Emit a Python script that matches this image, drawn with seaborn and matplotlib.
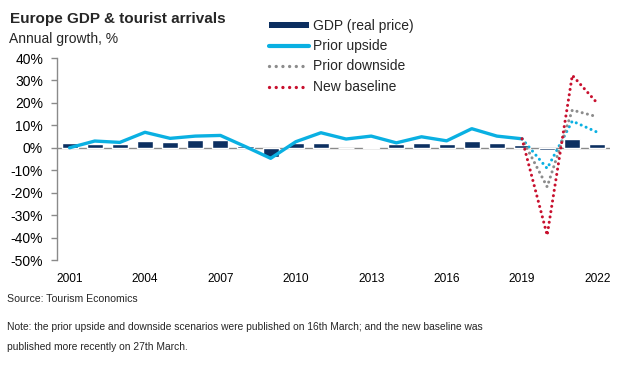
import numpy as np
import pandas as pd
import seaborn as sns
import matplotlib.pyplot as plt
from matplotlib import font_manager
from matplotlib.lines import Line2D
from matplotlib.patches import Patch

years = list(range(2001, 2023))
gdp = [2.0, 1.7, 1.7, 3.0, 2.5, 3.4, 3.4, 0.6, -4.3, 2.3, 2.0, -0.2,
       0.5, 1.6, 2.0, 1.8, 2.8, 2.0, 1.3, -1.2, 3.7, 1.9]

hist_years = list(range(2001, 2020))
upside_hist = [0.0, 3.0, 2.4, 6.9, 4.2, 5.2, 5.5, 0.5, -4.7, 2.7, 6.7, 3.9,
               5.2, 2.2, 4.9, 3.1, 8.5, 5.2, 4.0]

scen_years = [2019, 2020, 2021, 2022]
upside_scen = [4.0, -9.2, 11.9, 6.9]
downside_scen = [4.0, -17.4, 16.8, 13.8]
baseline_scen = [4.0, -39.0, 32.3, 19.8]

navy = '#0c2f60'
blue = '#0ab0e2'
grey = '#8c8c8c'
red = '#c8102e'
axis_grey = '#8a8a8a'

sns.set_style('white')
plt.rcParams['font.family'] = ['Liberation Sans', 'DejaVu Sans']

# the reference uses a narrow face for the x labels and footnotes
installed = {f.name for f in font_manager.fontManager.ttflist}
if 'Liberation Sans Narrow' in installed:
    narrow = ['Liberation Sans Narrow']
    xt_size, src_size, note_size = 10, 8.5, 8.8
else:
    narrow = ['Liberation Sans']
    xt_size, src_size, note_size = 8.6, 7.6, 7.35

fig = plt.figure(figsize=(6.3, 3.69), dpi=100)
ax = fig.add_axes([57 / 630, 1 - 260 / 369, 553 / 630, 202 / 369])

df_bar = pd.DataFrame({'year': years, 'gdp': gdp})
sns.barplot(data=df_bar, x='year', y='gdp', native_scale=True, width=0.64,
            color=navy, saturation=1, ax=ax, zorder=2)

ax.axhline(0, color=axis_grey, lw=1, zorder=1)

sns.lineplot(x=hist_years, y=upside_hist, color=blue, lw=2.4, ax=ax, zorder=3)

dots = dict(lw=2.2, dashes=(0.01, 1.75), dash_capstyle='round', zorder=4)
for vals, col in [(upside_scen, blue), (downside_scen, grey), (baseline_scen, red)]:
    ax.plot(scen_years, vals, color=col, **dots)

ax.set_xlim(2000.5, 2022.5)
ax.set_ylim(-50, 40)
ax.set_yticks(np.arange(-50, 41, 10))
ax.set_yticklabels([f'{v}%' for v in range(-50, 41, 10)], fontsize=10)
ax.set_xticks(list(range(2001, 2023, 3)))
ax.set_xticklabels([str(y) for y in range(2001, 2023, 3)], fontsize=xt_size, family=narrow)
ax.set_xlabel('')
ax.set_ylabel('')

for s in ['top', 'right', 'bottom']:
    ax.spines[s].set_visible(False)
ax.spines['left'].set_color(axis_grey)
ax.spines['left'].set_linewidth(1)
ax.tick_params(axis='y', which='major', left=True, length=4, width=1,
               color=axis_grey, pad=6, labelcolor='black')
ax.tick_params(axis='x', bottom=False, pad=6, labelcolor='black')

handles = [
    Patch(facecolor=navy, edgecolor='none'),
    Line2D([], [], color=blue, lw=3),
    Line2D([], [], color=grey, lw=2.4, dashes=(0.01, 2.0), dash_capstyle='round'),
    Line2D([], [], color=red, lw=2.4, dashes=(0.01, 2.0), dash_capstyle='round'),
]
labels = ['GDP (real price)', 'Prior upside', 'Prior downside', 'New baseline']
fig.legend(handles, labels, loc='upper left', bbox_to_anchor=(269 / 630, 1 - 19 / 369),
           frameon=False, fontsize=10, handlelength=2.85, handleheight=0.35,
           handletextpad=0.3, labelspacing=0.45, borderpad=0, borderaxespad=0)

fig.text(10 / 630, 1 - 23.5 / 369, 'Europe GDP & tourist arrivals', fontsize=11,
         fontweight='bold', va='baseline')
fig.text(9 / 630, 1 - 43 / 369, 'Annual growth, %', fontsize=10, va='baseline')
fig.text(7 / 630, 1 - 302 / 369, 'Source: Tourism Economics', fontsize=src_size,
         family=narrow, va='baseline')
fig.text(7 / 630, 1 - 329.5 / 369,
         'Note: the prior upside and downside scenarios were published on 16th March; and the new baseline was',
         fontsize=note_size, family=narrow, va='baseline')
fig.text(7 / 630, 1 - 350.5 / 369, 'published more recently on 27th March.',
         fontsize=note_size, family=narrow, va='baseline')

fig.savefig('out.png', dpi=100)
